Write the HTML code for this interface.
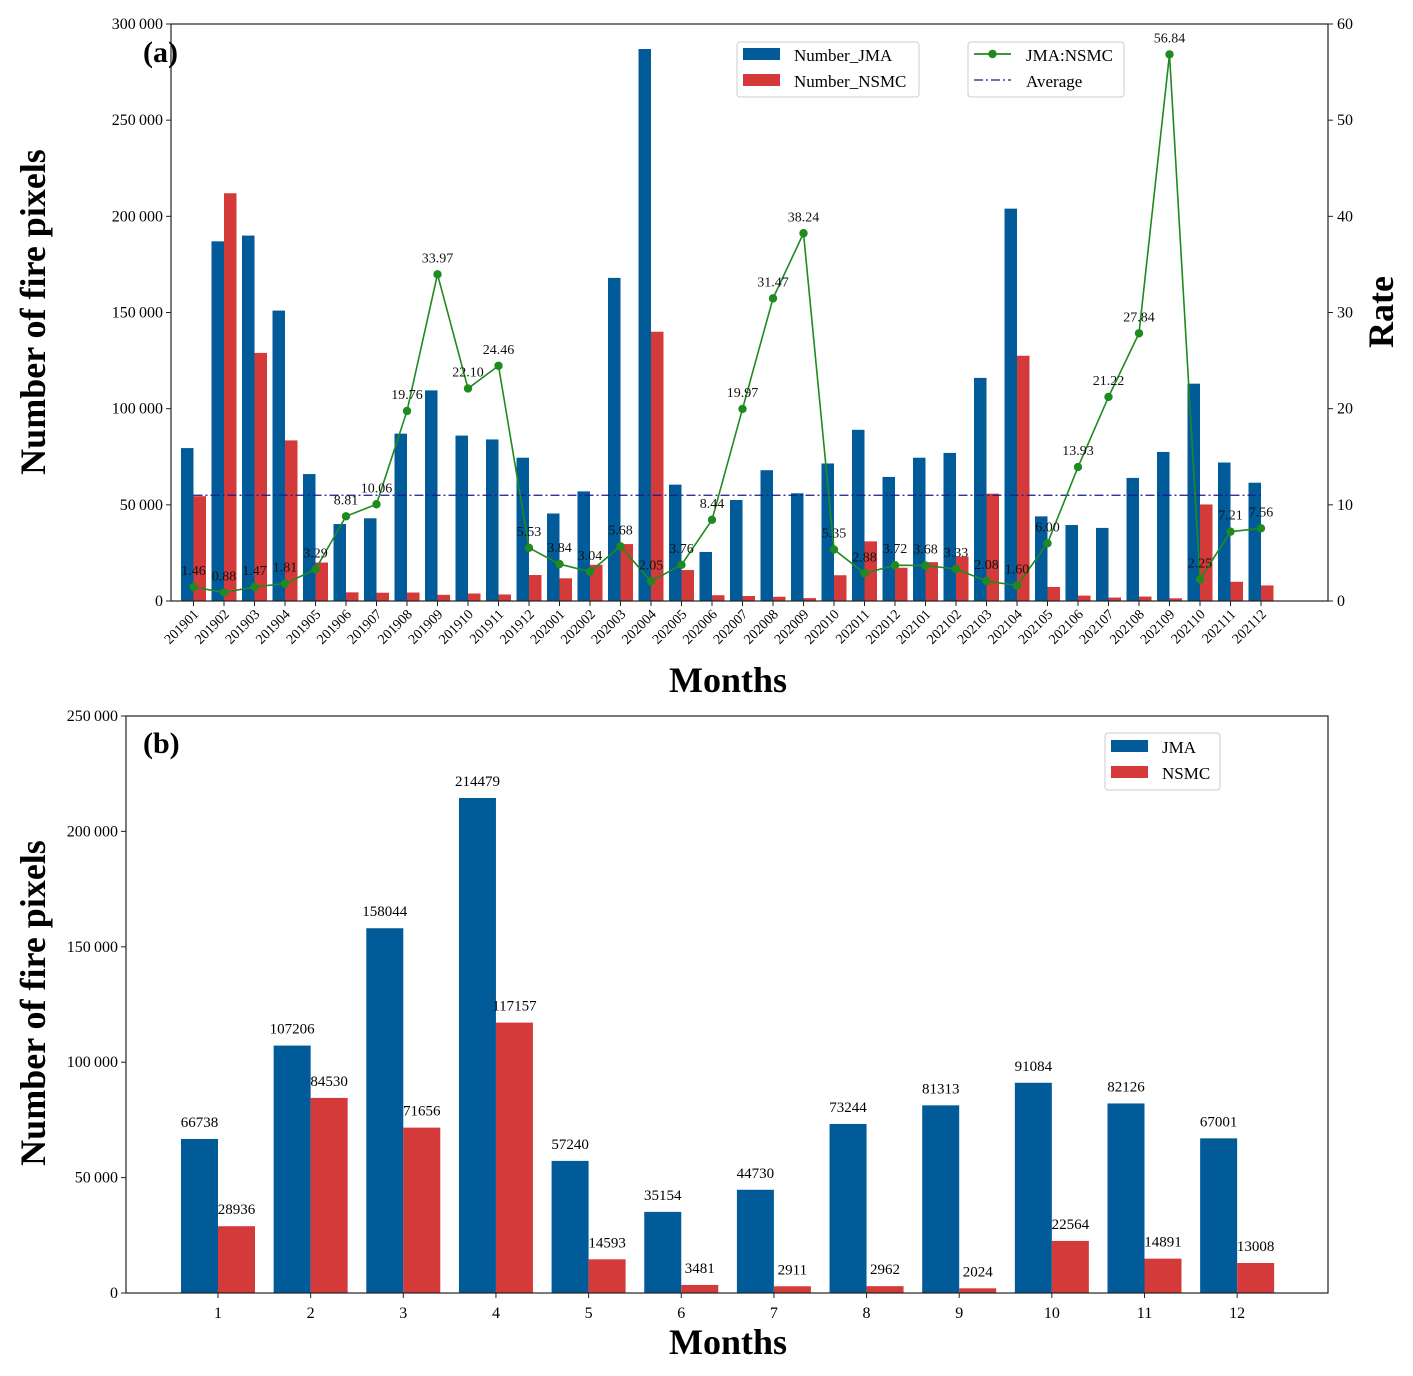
<!DOCTYPE html>
<html><head><meta charset="utf-8"><style>
html,body{margin:0;padding:0;background:#fff;}
svg{display:block;font-family:"Liberation Serif",serif;}
</style></head><body>
<svg id="chart" width="1413" height="1376" viewBox="0 0 1413 1376"></svg>
<script>
const monthsA=["201901","201902","201903","201904","201905","201906","201907","201908","201909","201910","201911","201912","202001","202002","202003","202004","202005","202006","202007","202008","202009","202010","202011","202012","202101","202102","202103","202104","202105","202106","202107","202108","202109","202110","202111","202112"];
const jmaA=[79500,187000,190000,151000,66000,40000,43000,87000,109500,86000,84000,74500,45500,57000,168000,287000,60500,25500,52500,68000,56000,71500,89000,64500,74500,77000,116000,204000,44000,39500,38000,64000,77500,113000,72000,61500];
const rateA=[1.46,0.88,1.47,1.81,3.29,8.81,10.06,19.76,33.97,22.10,24.46,5.53,3.84,3.04,5.68,2.05,3.76,8.44,19.97,31.47,38.24,5.35,2.88,3.72,3.68,3.33,2.08,1.60,6.00,13.93,21.22,27.84,56.84,2.25,7.21,7.56];
const nsmcA=[54500,212000,129000,83500,20000,4500,4300,4400,3200,3900,3400,13500,11800,18800,29600,140000,16100,3000,2600,2200,1500,13400,31000,17300,20200,23100,55800,127500,7300,2800,1800,2300,1400,50200,10000,8100];
const avgRate=11;
const leftTicksA=[0,50000,100000,150000,200000,250000,300000];
const rightTicksA=[0,10,20,30,40,50,60];
const monthsB=["1","2","3","4","5","6","7","8","9","10","11","12"];
const jmaB=[66738,107206,158044,214479,57240,35154,44730,73244,81313,91084,82126,67001];
const nsmcB=[28936,84530,71656,117157,14593,3481,2911,2962,2024,22564,14891,13008];
const leftTicksB=[0,50000,100000,150000,200000,250000];

const NS="http://www.w3.org/2000/svg";
const svg=document.getElementById('chart');
function mk(tag,attrs,parent){const e=document.createElementNS(NS,tag);for(const k in attrs)e.setAttribute(k,attrs[k]);(parent||svg).appendChild(e);return e;}
function txt(s,attrs,parent){const e=mk('text',attrs,parent);e.textContent=s;return e;}
function fmt(v){const s=String(v);return s.length>3?s.slice(0,-3)+'\u2009'+s.slice(-3):s;}
const BLUE="#005b98",RED="#d43a3a",GREEN="#1f8a1f";

// ---------- Chart A ----------
const A={x0:171,x1:1328,y0:601,y1:24};
const yA=v=>A.y0-(v/300000)*(A.y0-A.y1);
const rA=v=>A.y0-(v/60)*(A.y0-A.y1);
const xA=i=>193.5+30.5*i;
const gA=mk('g',{});


jmaA.forEach((v,i)=>{const r=mk('rect',{x:xA(i)-12.5,y:yA(v),width:12.5,height:A.y0-yA(v),fill:BLUE},gA);

});
nsmcA.forEach((v,i)=>{const r=mk('rect',{x:xA(i),y:yA(v),width:12.5,height:A.y0-yA(v),fill:RED},gA);

});
const av=mk('line',{x1:xA(0),x2:xA(35),y1:rA(avgRate),y2:rA(avgRate),stroke:"#1a1a8c","stroke-width":1.3,"stroke-dasharray":"9,3,2,3"},gA);


const pl=mk('polyline',{points:rateA.map((v,i)=>xA(i)+','+rA(v)).join(' '),fill:'none',stroke:GREEN,'stroke-width':1.6},gA);


rateA.forEach((v,i)=>{const c=mk('circle',{cx:xA(i),cy:rA(v),r:4.2,fill:GREEN},gA);


const t=txt(v.toFixed(2),{x:xA(i),y:rA(v)-12,'text-anchor':'middle','font-size':14,fill:'#111'},gA);

});
mk('rect',{x:A.x0,y:A.y1,width:A.x1-A.x0,height:A.y0-A.y1,fill:'none',stroke:'#222','stroke-width':1.2},gA);
leftTicksA.forEach(v=>{mk('line',{x1:A.x0-5,x2:A.x0,y1:yA(v),y2:yA(v),stroke:'#222'},gA);
const t=txt(fmt(v),{x:A.x0-8,y:yA(v)+5,'text-anchor':'end','font-size':16},gA);

});
rightTicksA.forEach(v=>{mk('line',{x1:A.x1,x2:A.x1+5,y1:rA(v),y2:rA(v),stroke:'#222'},gA);
const t=txt(String(v),{x:A.x1+9,y:rA(v)+5,'font-size':16},gA);

});
monthsA.forEach((m,i)=>{mk('line',{x1:xA(i),x2:xA(i),y1:A.y0,y2:A.y0+5,stroke:'#222'},gA);
const t=txt(m,{x:0,y:0,'text-anchor':'end','font-size':14,transform:`translate(${xA(i)+6},${A.y0+14}) rotate(-45)`},gA);

});
</script>
<script>
// static labels chart A
(function(){
const s=document.getElementById('chart');
s.insertAdjacentHTML('beforeend',`
<text x="143" y="62" font-size="30" font-weight="bold">(a)</text>
<text transform="translate(45,312) rotate(-90)" text-anchor="middle" font-size="36" font-weight="bold">Number of fire pixels</text>
<text transform="translate(1393,312) rotate(-90)" text-anchor="middle" font-size="36" font-weight="bold">Rate</text>
<text x="728" y="692" text-anchor="middle" font-size="36" font-weight="bold">Months</text>
<g>
<rect x="737" y="42" width="182" height="55" rx="3" fill="#fff" stroke="#ccc"/>
<rect x="743" y="48" width="37" height="12" fill="#005b98"/>
<text x="794" y="61" font-size="17">Number_JMA</text>
<rect x="743" y="74" width="37" height="12" fill="#d43a3a"/>
<text x="794" y="87" font-size="17">Number_NSMC</text>
</g>
<g>
<rect x="968" y="42" width="156" height="55" rx="3" fill="#fff" stroke="#ccc"/>
<line x1="974" x2="1011" y1="54" y2="54" stroke="#1f8a1f" stroke-width="1.8"/>
<circle cx="992.5" cy="54" r="4.2" fill="#1f8a1f"/>
<text x="1026" y="61" font-size="17">JMA:NSMC</text>
<line x1="974" x2="1011" y1="80" y2="80" stroke="#1a1a8c" stroke-width="1.3" stroke-dasharray="9,3,2,3"/>
<text x="1026" y="87" font-size="17">Average</text>
</g>
<text x="143" y="753" font-size="30" font-weight="bold">(b)</text>
<text transform="translate(45,1003) rotate(-90)" text-anchor="middle" font-size="36" font-weight="bold">Number of fire pixels</text>
<text x="728" y="1354" text-anchor="middle" font-size="36" font-weight="bold">Months</text>
<g>
<rect x="1105" y="733" width="115" height="57" rx="3" fill="#fff" stroke="#ccc"/>
<rect x="1111" y="740" width="37" height="12" fill="#005b98"/>
<text x="1162" y="753" font-size="17">JMA</text>
<rect x="1111" y="766" width="37" height="12" fill="#d43a3a"/>
<text x="1162" y="779" font-size="17">NSMC</text>
</g>`);
})();
</script>
<script>
// ---------- Chart B ----------
(function(){
const NS="http://www.w3.org/2000/svg";
const svg=document.getElementById('chart');
function mk(tag,attrs,parent){const e=document.createElementNS(NS,tag);for(const k in attrs)e.setAttribute(k,attrs[k]);(parent||svg).appendChild(e);return e;}
function txt(s,attrs,parent){const e=mk('text',attrs,parent);e.textContent=s;return e;}
function fmt(v){const s=String(v);return s.length>3?s.slice(0,-3)+'\u2009'+s.slice(-3):s;}
const BLUE="#005b98",RED="#d43a3a";
const B={x0:126,x1:1328,y0:1293,y1:716};
const yB=v=>B.y0-(v/250000)*(B.y0-B.y1);
const xB=i=>218+92.65*i;
const g=mk('g',{});


jmaB.forEach((v,i)=>{const r=mk('rect',{x:xB(i)-37,y:yB(v),width:37,height:B.y0-yB(v),fill:BLUE},g);


const t=txt(String(v),{x:xB(i)-18.5,y:yB(v)-12,'text-anchor':'middle','font-size':15},g);

});
nsmcB.forEach((v,i)=>{const r=mk('rect',{x:xB(i),y:yB(v),width:37,height:B.y0-yB(v),fill:RED},g);


const t=txt(String(v),{x:xB(i)+18.5,y:yB(v)-12,'text-anchor':'middle','font-size':15},g);

});
mk('rect',{x:B.x0,y:B.y1,width:B.x1-B.x0,height:B.y0-B.y1,fill:'none',stroke:'#222','stroke-width':1.2},g);
leftTicksB.forEach(v=>{mk('line',{x1:B.x0-5,x2:B.x0,y1:yB(v),y2:yB(v),stroke:'#222'},g);
const t=txt(fmt(v),{x:B.x0-8,y:yB(v)+5,'text-anchor':'end','font-size':16},g);

});
monthsB.forEach((m,i)=>{mk('line',{x1:xB(i),x2:xB(i),y1:B.y0,y2:B.y0+5,stroke:'#222'},g);
const t=txt(m,{x:xB(i),y:B.y0+25,'text-anchor':'middle','font-size':16},g);

});
})();
</script>
</body></html>
